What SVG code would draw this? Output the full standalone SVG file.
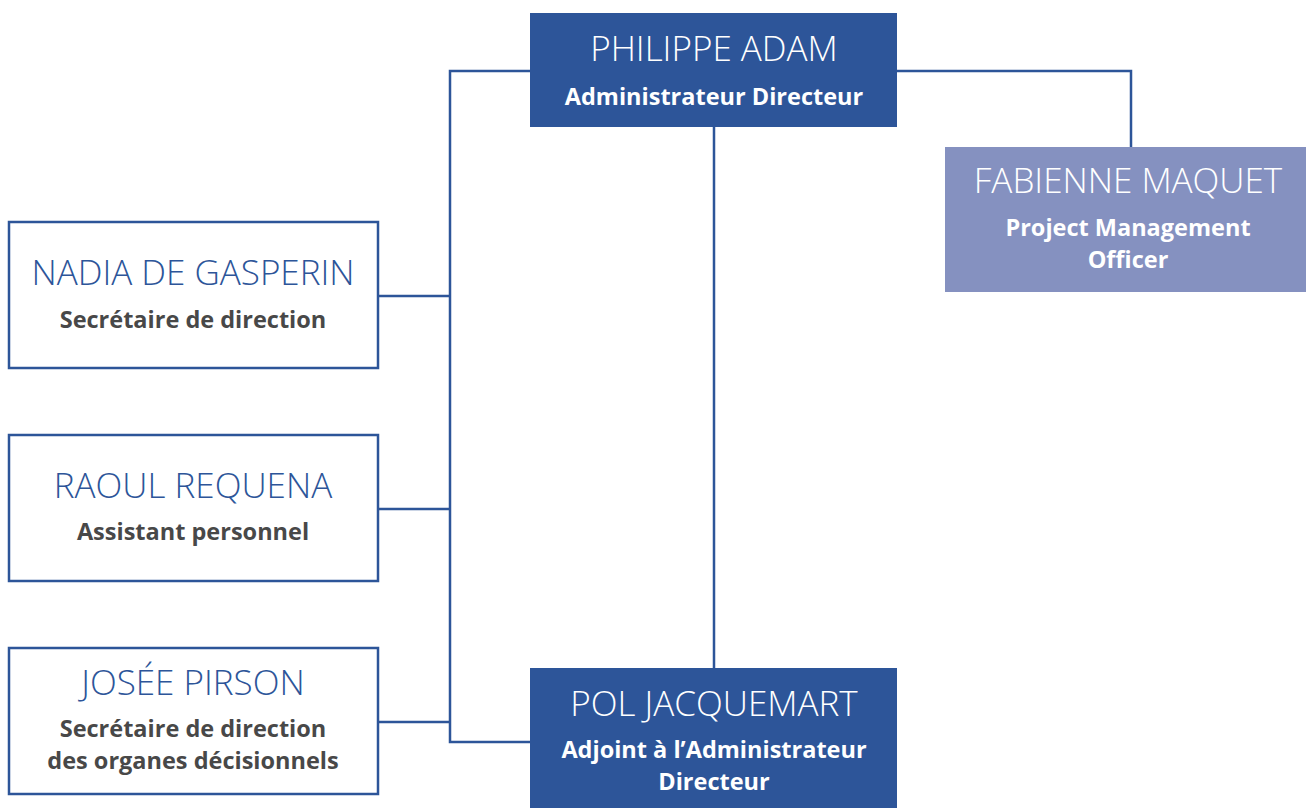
<svg xmlns="http://www.w3.org/2000/svg" width="1306" height="808" viewBox="0 0 1306 808">
<style>
.dark{fill:#2D5599}
.light{fill:#8591C0}
.outline{fill:#fff;stroke:#2D5599;stroke-width:2.5}
.name{font-family:"Open Sans","Liberation Sans",sans-serif;font-weight:300;font-size:35px;text-anchor:middle}
.sub{font-family:"Open Sans","Liberation Sans",sans-serif;font-weight:700;font-size:23.5px;text-anchor:middle}
.w{fill:#fff}
.b{fill:#2D5599}
.g{fill:#484848}
.conn{fill:none;stroke:#2D5599;stroke-width:2.5}
</style>
<rect width="1306" height="808" fill="#fff"/>
<g id="connectors">
<path class="conn" d="M530 71H450V742H530"/>
<path class="conn" d="M378 296H450M378 509H450M378 722H450"/>
<path class="conn" d="M714 127V668"/>
<path class="conn" d="M897 71H1131V147"/>
</g>
<g id="philippe-adam">
<rect class="dark" x="530" y="13" width="367" height="114"/>
<text class="name w" x="714" y="61">PHILIPPE ADAM</text>
<text class="sub w" x="714" y="105">Administrateur Directeur</text>
</g>
<g id="fabienne-maquet">
<rect class="light" x="945" y="147" width="361" height="145"/>
<text class="name w" x="1128" y="193">FABIENNE MAQUET</text>
<text class="sub w" x="1128" y="236">Project Management</text>
<text class="sub w" x="1128" y="268">Officer</text>
</g>
<g id="nadia-de-gasperin">
<rect class="outline" x="9" y="222" width="369" height="146"/>
<text class="name b" x="193" y="285">NADIA DE GASPERIN</text>
<text class="sub g" x="193" y="328">Secrétaire de direction</text>
</g>
<g id="raoul-requena">
<rect class="outline" x="9" y="435" width="369" height="146"/>
<text class="name b" x="193" y="498">RAOUL REQUENA</text>
<text class="sub g" x="193" y="540">Assistant personnel</text>
</g>
<g id="josee-pirson">
<rect class="outline" x="9" y="648" width="369" height="146"/>
<text class="name b" x="193" y="695">JOSÉE PIRSON</text>
<text class="sub g" x="193" y="737">Secrétaire de direction</text>
<text class="sub g" x="193" y="769">des organes décisionnels</text>
</g>
<g id="pol-jacquemart">
<rect class="dark" x="530" y="668" width="367" height="140"/>
<text class="name w" x="714" y="716">POL JACQUEMART</text>
<text class="sub w" x="714" y="758">Adjoint à l’Administrateur</text>
<text class="sub w" x="714" y="790">Directeur</text>
</g>
</svg>
